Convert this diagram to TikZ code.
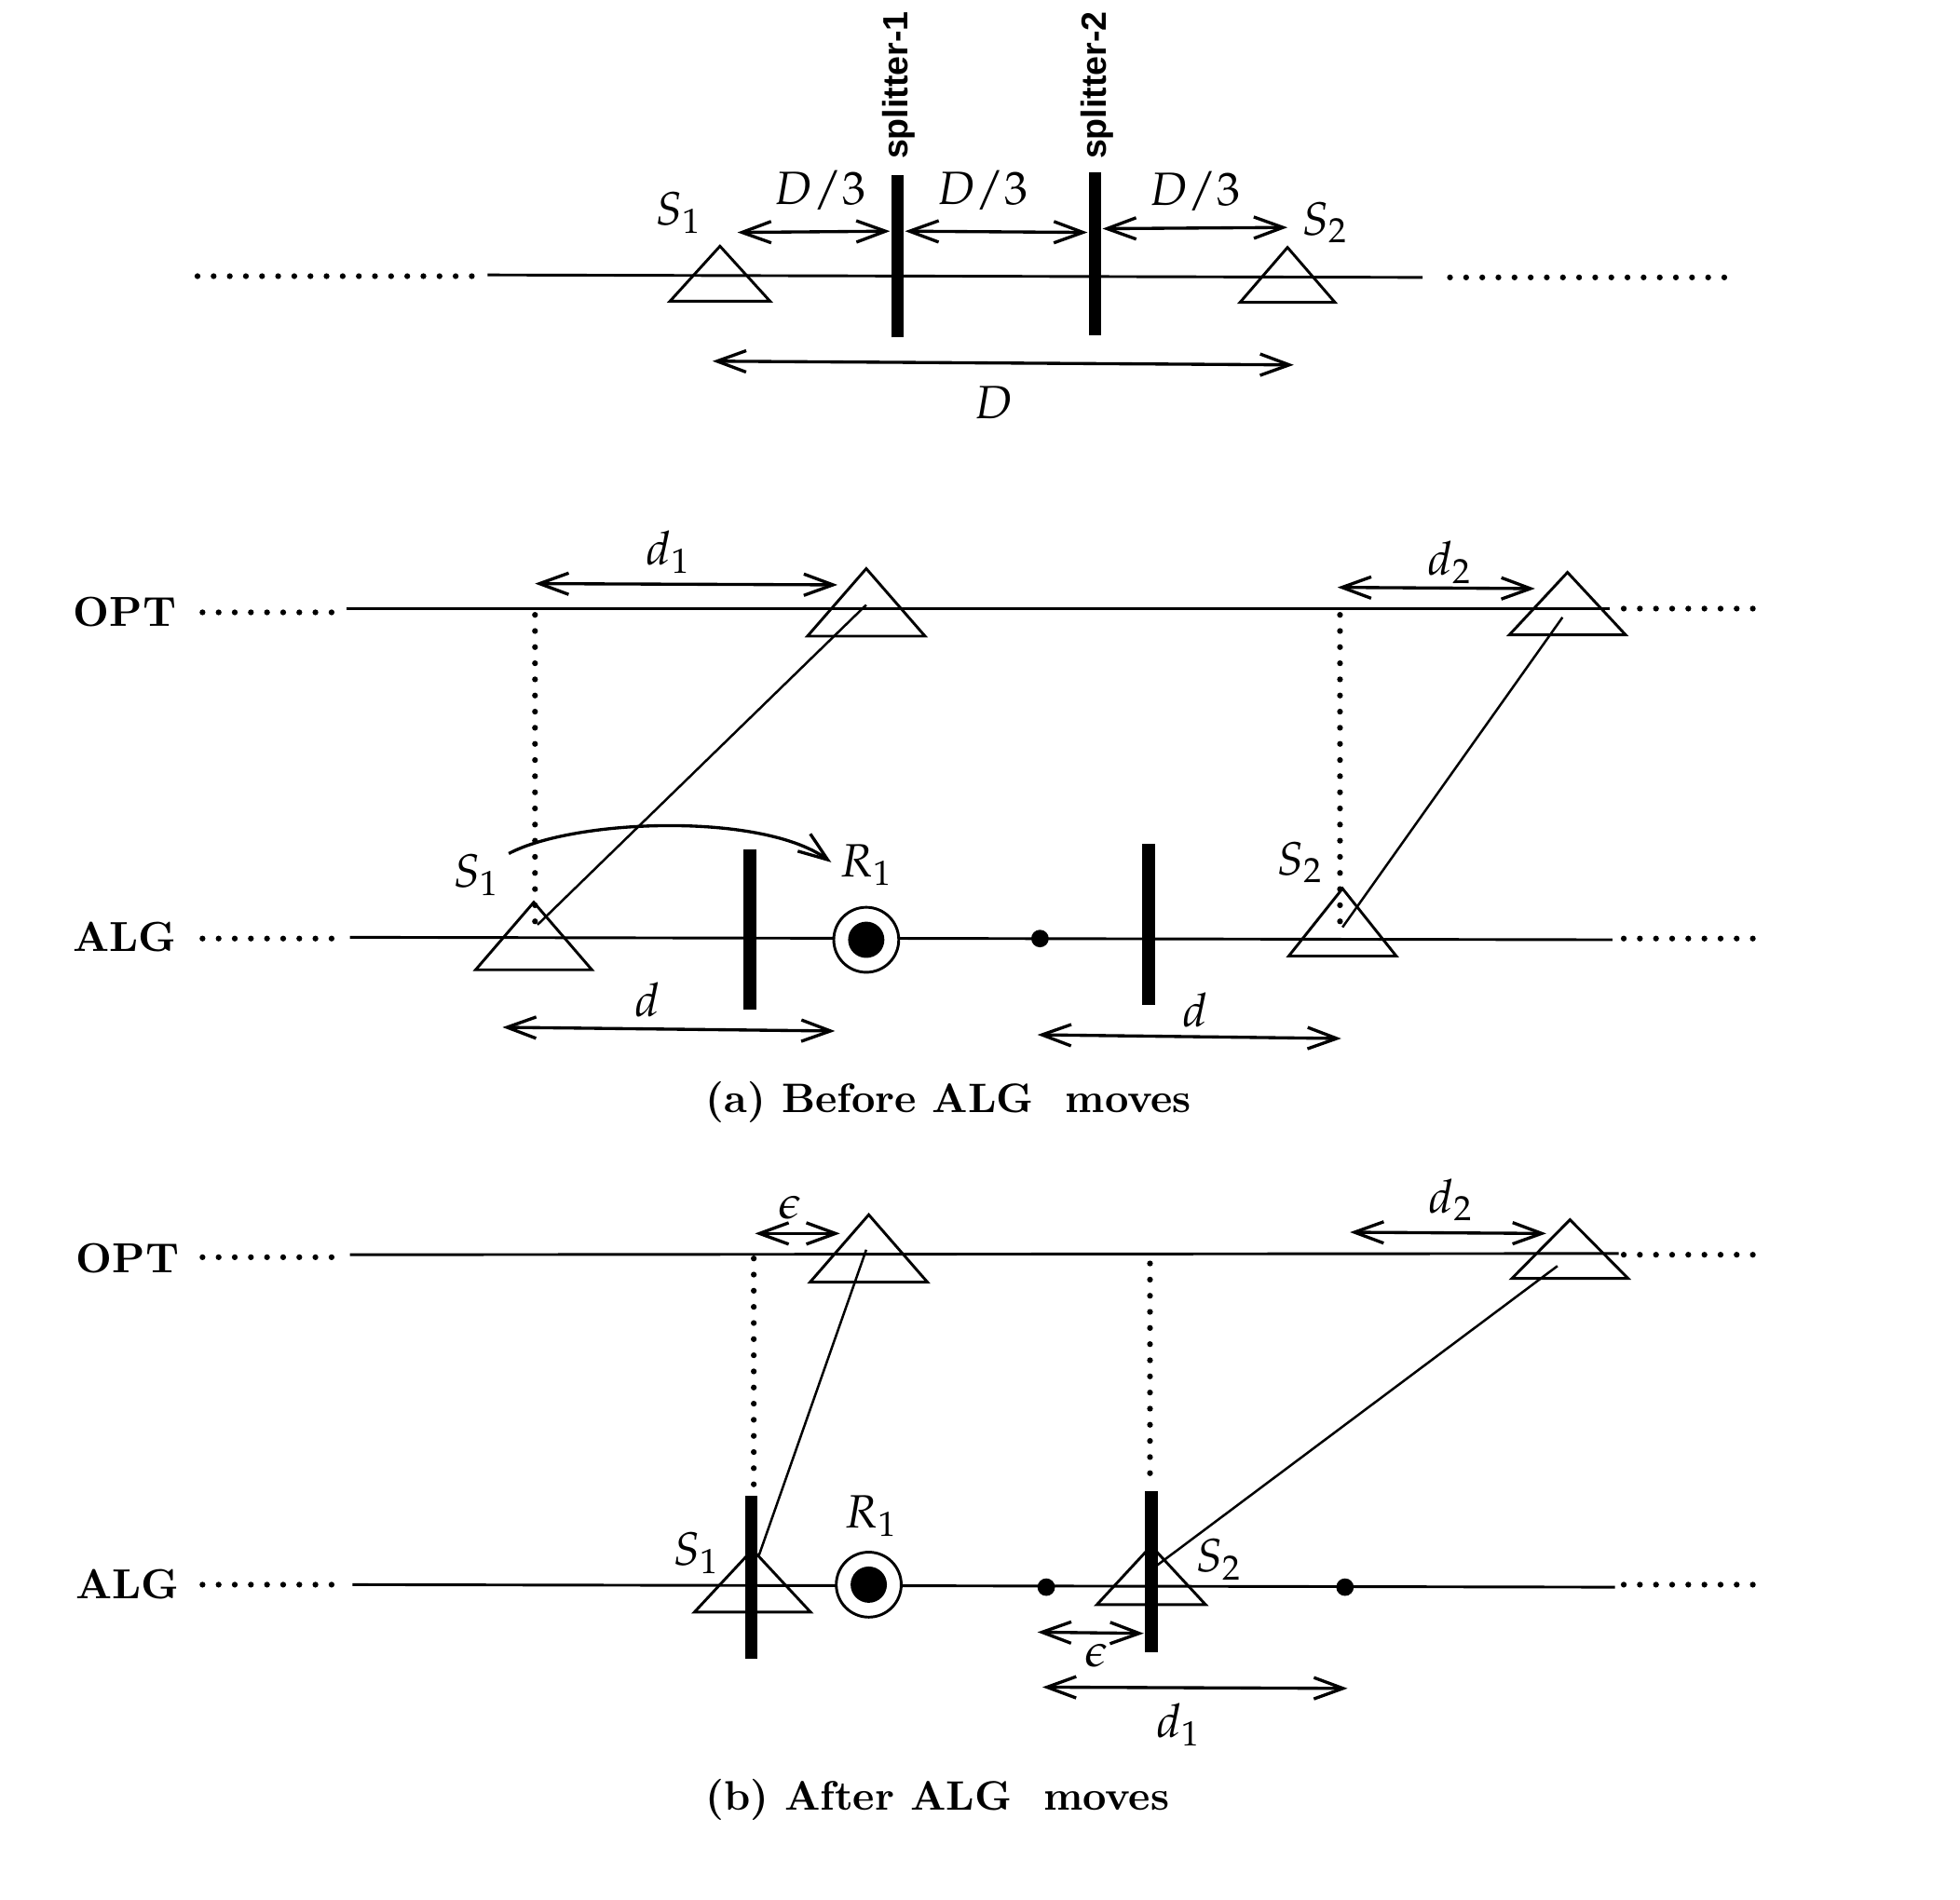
\documentclass[tikz,border=0pt]{standalone}
\usepackage{mathpazo}
\renewcommand{\rmdefault}{lmr}
\usepackage[no-math]{fontspec}
\newfontfamily\splitfont{Liberation Sans}
\usetikzlibrary{arrows.meta}

\begin{document}
\begin{tikzpicture}[x=1.13cm,y=1.13cm,
  >={Straight Barb[length=7.5pt,width=5.5pt]},
  lne/.style={line width=0.7pt},
  slant/.style={line width=0.6pt},
  arr/.style={<->,thick},
  dotl/.style={line width=1.5pt,line cap=round,dash pattern=on 0pt off 4.15pt},
  wall/.style={line width=3.3pt},
  tri/.style={line width=0.7pt,line join=miter},
  lbl/.style={font=\large,inner sep=1pt},
  who/.style={font=\fontsize{10.8}{13}\selectfont\bfseries},
  splt/.style={font=\splitfont\bfseries\fontsize{9}{10}\selectfont,
    rotate=90,anchor=west,inner sep=0pt},
  capt/.style={font=\fontsize{10.6}{13}\selectfont\bfseries}]

  \useasboundingbox (0,0) rectangle (15.68,15.20);

  % line with the two splitters
  \draw[dotl] (1.58,12.99) -- (3.78,12.99);
  \draw[lne] (3.90,13.00) -- (11.38,12.98);
  \draw[dotl] (11.60,12.98) -- (13.80,12.98);
  \draw[wall] (7.18,12.50) -- (7.18,13.80);
  \draw[wall] (8.76,12.52) -- (8.76,13.82);
  \node[splt] (sp1) at (7.19,13.92) {splitter-1};
  \node[splt] (sp2) at (8.78,13.92) {splitter-2};
  \node[lbl] (ts1) at (5.43,13.50) {$S_1$};
  \node[lbl] (ts2) at (10.60,13.42) {$S_2$};
  \node[lbl] (q1) at (6.56,13.68) {$D/3$};
  \node[lbl] (q2) at (7.86,13.68) {$D/3$};
  \node[lbl] (q3) at (9.56,13.67) {$D/3$};
  \coordinate (t1) at (5.90,13.34);
  \coordinate (t2) at (7.12,13.35);
  \coordinate (t3) at (7.24,13.35);
  \coordinate (t4) at (8.70,13.34);
  \coordinate (t5) at (8.82,13.37);
  \coordinate (t6) at (10.30,13.38);
  \draw[arr] (t1) -- (t2);
  \draw[arr] (t3) -- (t4);
  \draw[arr] (t5) -- (t6);
  \coordinate (dl) at (5.70,12.31);
  \coordinate (dr) at (10.35,12.28);
  \draw[arr] (dl) -- (dr);
  \node[lbl] (dD) at (7.95,11.98) {$D$};

  % sensors (x / base / half width / height)
  \foreach \x/\y/\w/\h in {5.76/12.79/0.40/0.44, 10.30/12.78/0.38/0.44,
      6.93/10.11/0.47/0.54, 12.54/10.12/0.465/0.50,
      4.27/7.44/0.465/0.54, 10.74/7.55/0.43/0.54,
      6.95/4.94/0.47/0.54, 12.56/4.97/0.465/0.47,
      6.02/2.30/0.465/0.50, 9.21/2.36/0.435/0.47}
    \draw[tri] (\x-\w,\y) -- (\x,\y+\h) -- (\x+\w,\y) -- cycle;

  % OPT and ALG lines
  \foreach \y/\r in {10.30/10.33, 7.69/7.69, 5.14/5.16, 2.52/2.52} {
    \draw[dotl] (1.62,\y) -- (2.66,\y);
    \draw[dotl] (12.99,\r) -- (14.03,\r);
  }
  \draw[lne] (2.77,10.33) -- (12.88,10.33);
  \draw[lne] (2.80,7.70) -- (12.90,7.68);
  \draw[lne] (2.80,5.16) -- (12.95,5.17);
  \draw[lne] (2.82,2.52) -- (12.92,2.50);
  \node[who] (opta) at (1.00,10.30) {OPT};
  \node[who] (alga) at (1.00,7.70) {ALG};
  \node[who] (optb) at (1.02,5.13) {OPT};
  \node[who] (algb) at (1.02,2.52) {ALG};

  % (a) before ALG moves
  \draw[dotl] (4.28,10.28) -- (4.28,7.72);
  \draw[dotl] (10.72,10.28) -- (10.72,7.75);
  \draw[slant] (6.93,10.36) -- (4.30,7.80);
  \draw[slant] (12.50,10.26) -- (10.74,7.78);
  \coordinate (a1) at (4.28,10.53);
  \coordinate (a2) at (6.70,10.52);
  \draw[arr] (a1) -- (a2);
  \node[lbl] (ad1) at (5.35,10.78) {$d_1$};
  \coordinate (a3) at (10.70,10.50);
  \coordinate (a4) at (12.28,10.49);
  \draw[arr] (a3) -- (a4);
  \node[lbl] (ad2) at (11.60,10.70) {$d_2$};
  \node[lbl] (as1) at (3.81,8.20) {$S_1$};
  \node[lbl] (as2) at (10.40,8.30) {$S_2$};
  \node[lbl] (ar1) at (6.93,8.28) {$R_1$};
  \coordinate (c1) at (4.07,8.37);
  \coordinate (c2) at (6.65,8.30);
  \draw[thick,->] (c1) .. controls (4.60,8.65) and (6.10,8.70) .. (c2);
  \draw[wall] (6.00,7.12) -- (6.00,8.40);
  \draw[wall] (9.19,7.16) -- (9.19,8.45);
  \draw[lne,fill=white] (6.93,7.68) circle (0.26);
  \fill (6.93,7.68) circle (0.145);
  \fill (8.32,7.69) circle (0.07);
  \coordinate (a5) at (4.02,6.98);
  \coordinate (a6) at (6.68,6.95);
  \draw[arr] (a5) -- (a6);
  \node[lbl] (ad3) at (5.18,7.20) {$d$};
  \coordinate (a7) at (8.30,6.92);
  \coordinate (a8) at (10.73,6.89);
  \draw[arr] (a7) -- (a8);
  \node[lbl] (ad4) at (9.56,7.12) {$d$};
  \node[capt] (capa) at (7.59,6.38) {(a) Before ALG~ moves};

  % (b) after ALG moves
  \draw[dotl] (6.03,5.13) -- (6.03,3.27);
  \draw[dotl] (9.20,5.09) -- (9.20,3.32);
  \draw[slant] (6.93,5.20) -- (6.07,2.75);
  \draw[slant] (12.46,5.07) -- (9.25,2.67);
  \coordinate (b1) at (6.04,5.33);
  \coordinate (b2) at (6.72,5.33);
  \draw[arr] (b1) -- (b2);
  \node[lbl] (be1) at (6.32,5.54) {$\epsilon$};
  \coordinate (b3) at (10.80,5.34);
  \coordinate (b4) at (12.37,5.33);
  \draw[arr] (b3) -- (b4);
  \node[lbl] (bd2) at (11.61,5.60) {$d_2$};
  \draw[wall] (6.01,1.93) -- (6.01,3.23);
  \draw[wall] (9.21,1.98) -- (9.21,3.27);
  \node[lbl] (bs1) at (5.57,2.77) {$S_1$};
  \node[lbl] (bs2) at (9.75,2.72) {$S_2$};
  \node[lbl] (br1) at (6.97,3.07) {$R_1$};
  \draw[lne,fill=white] (6.95,2.52) circle (0.26);
  \fill (6.95,2.52) circle (0.145);
  \fill (8.37,2.50) circle (0.07);
  \fill (10.76,2.50) circle (0.07);
  \coordinate (b5) at (8.30,2.14);
  \coordinate (b6) at (9.15,2.13);
  \draw[arr] (b5) -- (b6);
  \node[lbl] (be2) at (8.77,1.95) {$\epsilon$};
  \coordinate (b7) at (8.34,1.70);
  \coordinate (b8) at (10.78,1.69);
  \draw[arr] (b7) -- (b8);
  \node[lbl] (bd1) at (9.43,1.40) {$d_1$};
  \node[capt] (capb) at (7.50,0.80) {(b) After ALG~ moves};
\end{tikzpicture}
\end{document}
